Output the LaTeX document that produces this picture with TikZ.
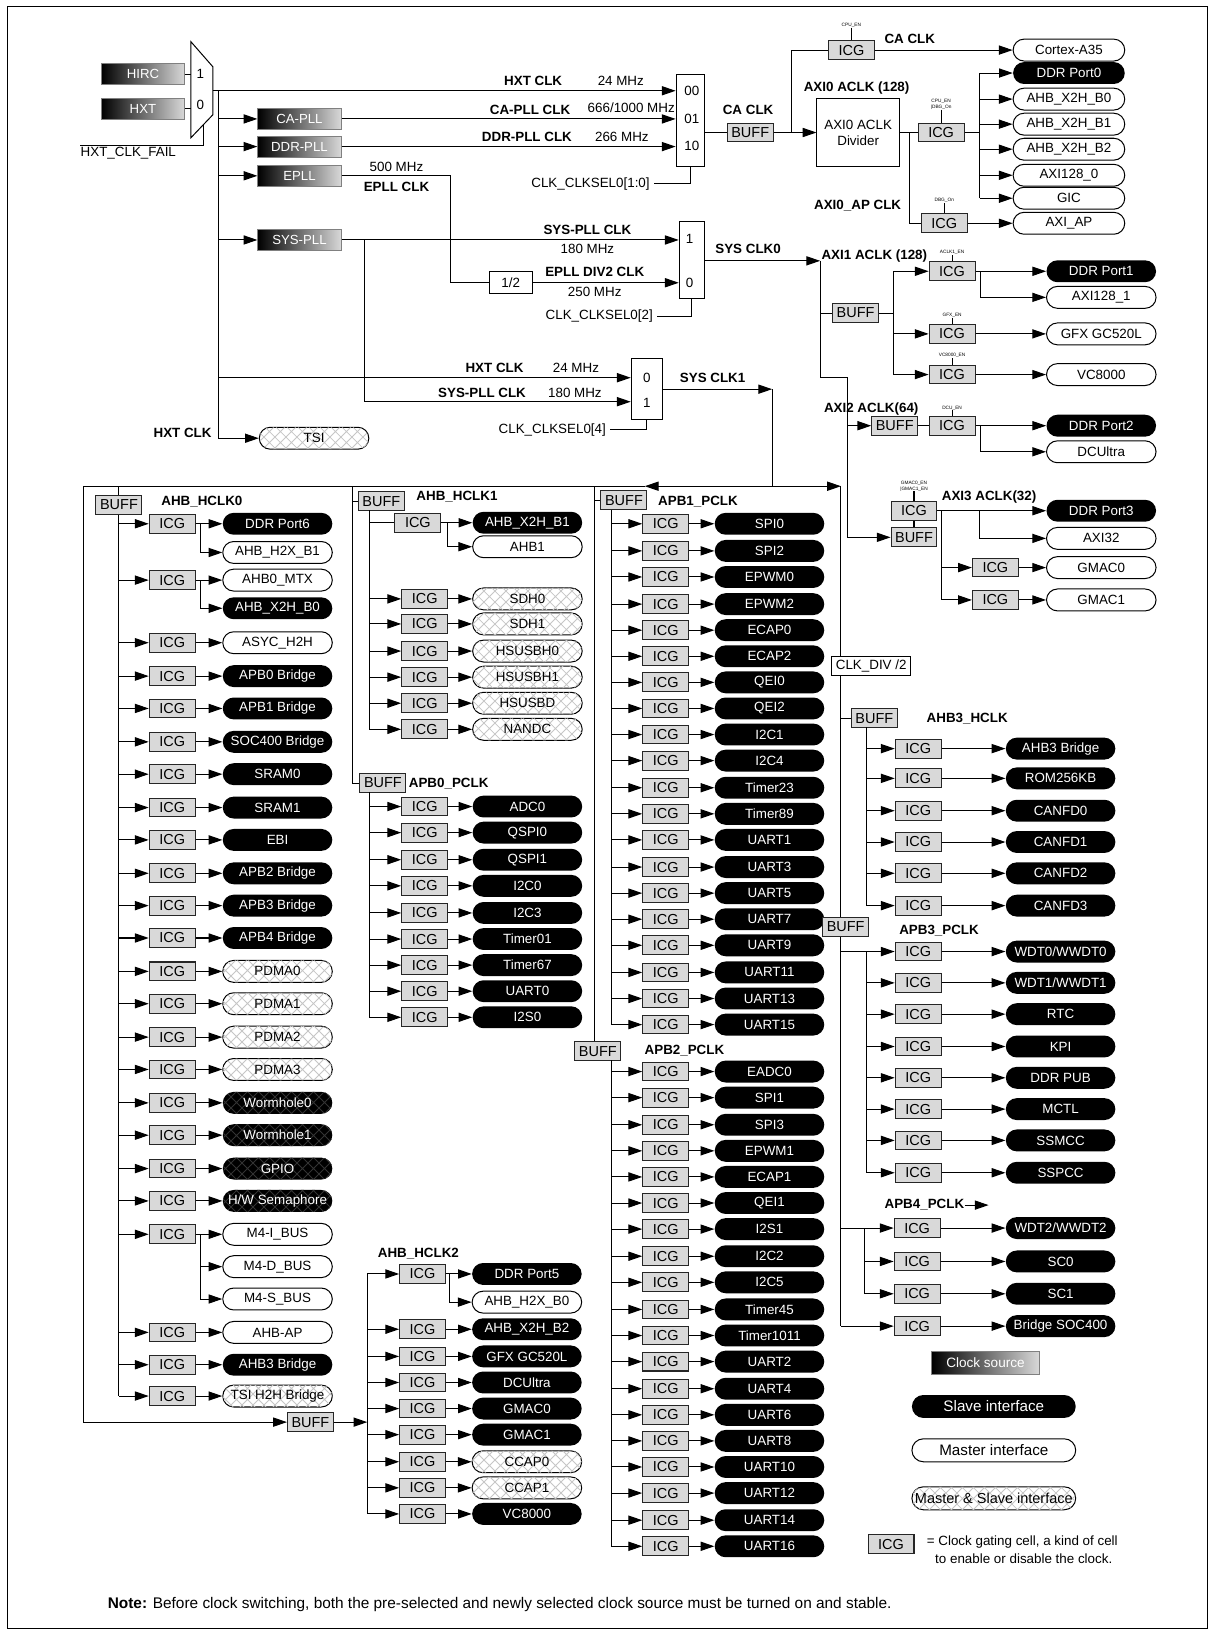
\documentclass[tikz,border=0pt]{standalone}
\usepackage{fontspec}
\setmainfont{Liberation Sans}
\usetikzlibrary{arrows.meta, shapes.misc, patterns.meta}

\tikzdeclarepattern{
  name=xhatch, type=uncolored,
  bottom left={(-0.5pt,-0.5pt)}, top right={(6.5pt,6.5pt)},
  tile size={(6pt,6pt)},
  code={\draw[line width=0.45pt] (0pt,0pt) -- (6pt,6pt) (0pt,6pt) -- (6pt,0pt);}
}

\tikzset{
  every node/.style={font=\fontsize{7.3}{8.8}\selectfont, inner sep=0pt},
  wire/.style={line width=0.55pt},
  arr/.style={line width=0.55pt, -{Triangle[length=7.5pt,width=5pt]}},
  src/.style={draw=gray, left color=black, right color=gray!30, text=white,
    minimum width=1.6cm, minimum height=0.4cm, font=\fontsize{7.2}{8.6}\selectfont},
  icg/.style={draw=gray!30!black, fill=gray!30, line width=0.55pt,
    minimum width=0.88cm, minimum height=0.36cm, font=\fontsize{7.9}{9}\selectfont},
  buff/.style={icg},
  slv/.style={rounded rectangle, fill=black, text=white, minimum width=2.1cm, minimum height=0.42cm},
  mst/.style={rounded rectangle, draw, line width=0.55pt, fill=white, minimum width=2.1cm, minimum height=0.42cm},
  msl/.style={mst, postaction={pattern=xhatch, pattern color=gray!45}},
  slvh/.style={slv, postaction={pattern=xhatch, pattern color=gray!40!black}},
  lbl/.style={font=\fontsize{7.3}{8.8}\selectfont\bfseries},
  en/.style={font=\fontsize{2.6}{3}\selectfont, align=center},
  box/.style={draw, fill=white, line width=0.55pt},
  wide/.style={minimum width=2.14cm},
  lgd/.style={minimum width=3.14cm, minimum height=0.44cm, font=\fontsize{8.3}{10}\selectfont},
}

\begin{document}
\begin{tikzpicture}[x=0.02cm, y=-0.02cm]
\useasboundingbox (0,0) rectangle (1164,1568);
\draw[wire] (7,6) rectangle (1157,1561);

% clock sources
\node[src] (hirc) at (137,71) {HIRC};
\node[src] (hxt) at (137,104) {HXT};
\draw[wire] (183,40) -- (204,64) -- (204,110) -- (183,132) -- cycle;
\node at (192,71) {1};
\node at (192,101) {0};
\draw[wire] (hirc) -- (183,71);
\draw[wire] (hxt) -- (183,104);
\node (fail) at (123,147) {HXT\_CLK\_FAIL};
\coordinate (failL) at (77,139);
\coordinate (failR) at (195,139);
\draw[wire] (failL) -- (failR) -- (195,119);

\coordinate (mo) at (204,87);
\coordinate (b0) at (209,87);
\node[box, minimum width=0.54cm, minimum height=1.78cm] (m1) at (661.5,115.5) {};
\node at (663,87) {00};
\node at (663,114) {01};
\node at (663,140) {10};
\node[src] (capll) at (287,114) {CA-PLL};
\node[src] (ddrpll) at (287,140.5) {DDR-PLL};
\node[src] (epll) at (287,168.5) {EPLL};
\node[src] (syspll) at (287,230) {SYS-PLL};
\node[msl] (tsi) at (301,420) {TSI};
\draw[arr] (mo) -- (mo -| m1.west);
\draw[wire] (b0) -- (b0 |- tsi);
\draw[arr] (b0 |- tsi) -- (tsi);
\draw[arr] (b0 |- capll) -- (capll);
\draw[arr] (b0 |- ddrpll) -- (ddrpll);
\draw[arr] (b0 |- epll) -- (epll);
\draw[arr] (b0 |- syspll) -- (syspll);
\draw[arr] (capll) -- (capll -| m1.west);
\draw[arr] (ddrpll) -- (ddrpll -| m1.west);
\node[lbl] at (511,78) {HXT CLK};
\node at (595,77) {24 MHz};
\node[lbl] at (508,105) {CA-PLL CLK};
\node at (605,103) {666/1000 MHz};
\node[lbl] at (505,131) {DDR-PLL CLK};
\node at (596,131) {266 MHz};
\node[anchor=east] (sel1) at (623,176) {CLK\_CLKSEL0[1:0]};
\draw[wire] (sel1.east) ++(4,0) -| (m1.south);

% CA clock and AXI0
\node[buff] (cabuf) at (719,127) {BUFF};
\node[lbl] at (717,105) {CA CLK};
\coordinate (ca) at (759,127);
\node[box, align=center, minimum width=1.58cm, minimum height=1.3cm] (div) at (822.5,127) {AXI0 ACLK\\Divider};
\node[icg] (caicg) at (816,48) {ICG};
\node[en] (caen) at (816,24) {CPU\_EN};
\node[lbl] at (872,37) {CA CLK};
\node[mst, wide] (a35) at (1024.5,48) {Cortex-A35};
\draw[wire] (m1.east |- cabuf) -- (cabuf) -- (ca);
\draw[arr] (ca) -- (div);
\draw[wire] (ca) |- (caicg);
\draw[arr] (caicg) -- (a35);
\draw[wire] (caen) -- (caicg);
\node[icg] (ax0icg) at (902,127) {ICG};
\node[en] (ax0en) at (902,100) {CPU\_EN\\|DBG\_On};
\node[lbl] at (821,84) {AXI0 ACLK (128)};
\coordinate (ax0b) at (872,127);
\node[icg] (apicg) at (905,214) {ICG};
\node[en] (apen) at (905,192) {DBG\_On};
\node[lbl] at (822,197) {AXI0\_AP CLK};
\node[mst, wide] (axiap) at (1024.5,214) {AXI\_AP};
\draw[wire] (div) -- (ax0icg);
\draw[wire] (ax0en) -- (ax0icg);
\draw[wire] (ax0b) |- (apicg);
\draw[wire] (apen) -- (apicg);
\draw[arr] (apicg) -- (axiap);
\coordinate (ax0f) at (939,127);
\draw[wire] (ax0icg) -- (ax0f);
\foreach \y/\t/\s [count=\i] in {70/DDR Port0/slv, 95/AHB\_X2H\_B0/mst, 119/AHB\_X2H\_B1/mst,
    143/AHB\_X2H\_B2/mst, 168/AXI128\_0/mst, 190/GIC/mst} {
  \node[\s, wide] (ax0p\i) at (1024.5,\y) {\t};
  \draw[arr] (ax0f |- ax0p\i) -- (ax0p\i);
}
\draw[wire] (ax0f |- ax0p1) -- (ax0f |- ax0p6);

% SYS CLK0
\node[box, minimum width=0.48cm, minimum height=1.47cm] (m2) at (663,249) {};
\node at (661,229) {1};
\node at (661,271) {0};
\draw[arr] (syspll) -- (syspll -| m2.west);
\coordinate (ep) at (432,168.5);
\node[box, minimum width=0.82cm, minimum height=0.43cm] (half) at (489.5,271) {1/2};
\draw[wire] (epll) -- (ep) |- (half);
\draw[arr] (half) -- (half -| m2.west);
\node at (380,160) {500 MHz};
\node[lbl] at (380,179) {EPLL CLK};
\node[lbl] at (563,220) {SYS-PLL CLK};
\node at (563,239) {180 MHz};
\node[lbl] at (570,261) {EPLL DIV2 CLK};
\node at (570,280) {250 MHz};
\node[anchor=east] (sel2) at (626,303) {CLK\_CLKSEL0[2]};
\draw[wire] (sel2.east) ++(4,0) -| (m2.south);
\coordinate (s0) at (786,250);
\draw[arr] (m2.east |- s0) -- (s0);
\node[lbl] at (717,239) {SYS CLK0};

% SYS CLK1
\node[box, minimum width=0.6cm, minimum height=1.16cm] (m3) at (620,373) {};
\node at (620,362) {0};
\node at (620,386) {1};
\coordinate (h3) at (209,362);
\coordinate (sp) at (349,230);
\coordinate (sp3) at (349,385);
\draw[arr] (h3) -- (h3 -| m3.west);
\draw[arr] (sp) -- (sp3) -- (sp3 -| m3.west);
\node[lbl] at (474,353) {HXT CLK};
\node at (552,353) {24 MHz};
\node[lbl] at (462,377) {SYS-PLL CLK};
\node at (551,377) {180 MHz};
\node[anchor=east] (sel3) at (581,412) {CLK\_CLKSEL0[4]};
\draw[wire] (sel3.east) ++(4,0) -| (m3.south);
\coordinate (s1) at (740,373);
\draw[arr] (m3.east |- s1) -- (s1);
\node[lbl] at (683,362) {SYS CLK1};
\node[lbl] at (175,415) {HXT CLK};

% AXI1
\node[lbl] at (838,245) {AXI1 ACLK (128)};
\coordinate (a1v) at (786,362);
\coordinate (a1w) at (812,362);
\coordinate (a1x) at (812,515);
\node[buff] (a1buf) at (820,300) {BUFF};
\draw[wire] (s0) -- (a1v) -- (a1w) -- (a1x);
\draw[wire] (s0 |- a1buf) -- (a1buf);
\coordinate (a1k) at (856,300);
\draw[wire] (a1buf) -- (a1k);
\foreach \y/\t/\e/\s [count=\i] in {260/DDR Port1/ACLK1\_EN/slv, 320/GFX GC520L/GFX\_EN/mst, 359/VC8000/VC8000\_EN/mst} {
  \node[icg] (a1i\i) at (912.5,\y) {ICG};
  \node[en] (a1e\i) at (912.5,\y-18) {\e};
  \node[\s] (a1p\i) at (1055.5,\y) {\t};
  \draw[wire] (a1e\i) -- (a1i\i);
  \draw[arr] (a1k |- a1i\i) -- (a1i\i);
  \draw[arr] (a1i\i) -- (a1p\i);
}
\draw[wire] (a1k |- a1i1) -- (a1k |- a1i3);
\node[mst] (a1q) at (1055.5,285) {AXI128\_1};
\coordinate (a1f) at (940,260);
\draw[arr] (a1f) |- (a1q);

% AXI2
\node[lbl] at (835,392) {AXI2 ACLK(64)};
\node[buff] (a2buf) at (857.5,408) {BUFF};
\node[icg] (a2icg) at (912.5,408) {ICG};
\node[en] (a2en) at (912.5,391) {DCU\_EN};
\node[slv] (a2p1) at (1055.5,408) {DDR Port2};
\node[mst] (a2p2) at (1055.5,433) {DCUltra};
\draw[arr] (a1x |- a2buf) -- (a2buf);
\draw[wire] (a2buf) -- (a2icg);
\draw[wire] (a2en) -- (a2icg);
\draw[arr] (a2icg) -- (a2p1);
\coordinate (a2f) at (940,408);
\draw[arr] (a2f) |- (a2p2);

% AXI3
\node[lbl] at (948,476) {AXI3 ACLK(32)};
\node[icg] (a3icg) at (876,489.5) {ICG};
\node[buff] (a3buf) at (876,515) {BUFF};
\node[en] (a3en) at (876,466) {GMAC0\_EN\\|GMAC1\_EN};
\draw[arr] (a1x) -- (a3buf);
\draw[wire] (a3buf) -- (a3icg);
\draw[wire] (a3en) -- (a3icg);
\node[slv] (a3p1) at (1055.5,489.5) {DDR Port3};
\node[mst] (a3p2) at (1055.5,516) {AXI32};
\draw[arr] (a3icg) -- (a3p1);
\coordinate (a3f) at (939,489.5);
\draw[arr] (a3f) |- (a3p2);
\coordinate (a3k) at (902,489.5);
\foreach \y/\t [count=\i] in {544/GMAC0, 575/GMAC1} {
  \node[icg] (a3i\i) at (954,\y) {ICG};
  \node[mst] (a3g\i) at (1055.5,\y) {\t};
  \draw[arr] (a3k |- a3i\i) -- (a3i\i);
  \draw[arr] (a3i\i) -- (a3g\i);
}
\draw[wire] (a3k) -- (a3k |- a3i2);

% clock tree frame
\coordinate (top) at (740,466);
\coordinate (tl) at (618,466);
\coordinate (tr) at (806,466);
\coordinate (fl) at (80,466);
\coordinate (fb) at (80,1363);
\coordinate (fr) at (806,1271);
\draw[wire] (s1) -- (top);
\draw[arr] (top) -- (tl);
\draw[arr] (top) -- (tr);
\draw[wire] (tl) -- (fl) -- (fb);
\draw[wire] (tr) -- (fr);

% AHB_HCLK0
\node[buff] (h0buf) at (114,484) {BUFF};
\node[lbl] at (193.5,481) {AHB\_HCLK0};
\draw[wire] (fl -| h0buf) -- (h0buf);
\coordinate (h0b) at (114,492);
\foreach \y/\t/\s [count=\i] in {502/DDR Port6/slv, 556/AHB0\_MTX/mst, 616/ASYC\_H2H/mst,
    648/APB0 Bridge/slv, 679/APB1 Bridge/slv, 711/SOC400 Bridge/slv, 742/SRAM0/slv,
    774/SRAM1/slv, 805/EBI/slv, 837/APB2 Bridge/slv, 868/APB3 Bridge/slv, 899/APB4 Bridge/slv,
    931/PDMA0/msl, 962/PDMA1/msl, 994/PDMA2/msl, 1025/PDMA3/msl, 1057/Wormhole0/slvh,
    1088/Wormhole1/slvh, 1120/GPIO/slvh, 1151/{H/W Semaphore}/slvh, 1183/M4-I\_BUS/mst,
    1277/AHB-AP/mst, 1308/AHB3 Bridge/slv, 1338/TSI H2H Bridge/msl} {
  \node[icg] (h0i\i) at (165,\y) {ICG};
  \node[\s] (h0p\i) at (266,\y) {\t};
  \draw[arr] (h0b |- h0i\i) -- (h0i\i);
  \draw[arr] (h0i\i) -- (h0p\i);
}
\draw[wire] (h0buf) -- (h0b |- h0i24);
\node[mst] (h0q1) at (266,529.5) {AHB\_H2X\_B1};
\node[slv] (h0q2) at (266,583) {AHB\_X2H\_B0};
\node[mst] (h0q3) at (266,1214) {M4-D\_BUS};
\node[mst] (h0q4) at (266,1245) {M4-S\_BUS};
\coordinate (h0k1) at (192.5,502);
\coordinate (h0k2) at (192.5,556);
\coordinate (h0k3) at (192.5,1183);
\draw[arr] (h0k1) |- (h0q1);
\draw[arr] (h0k2) |- (h0q2);
\draw[arr] (h0k3) |- (h0q3);
\draw[arr] (h0k3) |- (h0q4);
\node[buff] (bbuf) at (297.5,1363) {BUFF};
\coordinate (h2b) at (352,1363);
\draw[arr] (fb) -- (bbuf);
\draw[arr] (bbuf) -- (h2b);

% AHB_HCLK1 and APB0
\coordinate (f1) at (338,466);
\node[buff] (h1buf) at (365.5,480.5) {BUFF};
\node[buff] (p0buf) at (367,750.5) {BUFF};
\draw[wire] (f1) -- (f1 |- p0buf) -- (p0buf);
\draw[wire] (f1 |- h1buf) -- (h1buf);
\node[lbl] at (438,476) {AHB\_HCLK1};
\node[lbl] at (430,751) {APB0\_PCLK};
\coordinate (h1b) at (354,489);
\node[icg] (h1i0) at (400.5,501) {ICG};
\node[slv] (h1p0) at (505.5,501) {AHB\_X2H\_B1};
\node[mst] (h1q) at (505.5,524) {AHB1};
\draw[wire] (h1b |- h1i0) -- (h1i0);
\draw[arr] (h1i0) -- (h1p0);
\coordinate (h1k) at (429,501);
\draw[arr] (h1k) |- (h1q);
\foreach \y/\t [count=\i] in {574/SDH0, 598/SDH1, 624/HSUSBH0, 649/HSUSBH1, 674/HSUSBD, 699/NANDC} {
  \node[icg] (h1i\i) at (407,\y) {ICG};
  \node[msl] (h1p\i) at (505.5,\y) {\t};
  \draw[arr] (h1b |- h1i\i) -- (h1i\i);
  \draw[arr] (h1i\i) -- (h1p\i);
}
\draw[wire] (h1b) -- (h1b |- h1i6);
\coordinate (p0b) at (354,759);
\foreach \y/\t [count=\i] in {773/ADC0, 798/QSPI0, 824/QSPI1, 849/I2C0, 875/I2C3, 900/Timer01,
    925/Timer67, 950/UART0, 975/I2S0} {
  \node[icg] (p0i\i) at (407,\y) {ICG};
  \node[slv] (p0p\i) at (505.5,\y) {\t};
  \draw[arr] (p0b |- p0i\i) -- (p0i\i);
  \draw[arr] (p0i\i) -- (p0p\i);
}
\draw[wire] (p0b) -- (p0b |- p0i9);

% AHB_HCLK2
\node[lbl] at (401,1202) {AHB\_HCLK2};
\foreach \y/\t/\s [count=\i] in {1221/DDR Port5/slv, 1274/AHB\_X2H\_B2/slv, 1300/GFX GC520L/slv,
    1325/DCUltra/slv, 1350/GMAC0/slv, 1375/GMAC1/slv, 1401/CCAP0/msl, 1426/CCAP1/msl, 1451/VC8000/slv} {
  \node[icg] (h2i\i) at (405,\y) {ICG};
  \node[\s] (h2p\i) at (505,\y) {\t};
  \draw[arr] (h2b |- h2i\i) -- (h2i\i);
  \draw[arr] (h2i\i) -- (h2p\i);
}
\draw[wire] (h2b |- h2i1) -- (h2b |- h2i9);
\node[mst] (h2q) at (505,1248) {AHB\_H2X\_B0};
\coordinate (h2k) at (431,1221);
\draw[arr] (h2k) |- (h2q);

% APB1 and APB2
\coordinate (f2) at (570,466);
\node[buff] (p1buf) at (598,479.5) {BUFF};
\draw[wire] (f2) -- (570,999);
\node[buff] (p2buf) at (573,1007.5) {BUFF};
\draw[wire] (f2 |- p1buf) -- (p1buf);
\node[lbl] at (669,481) {APB1\_PCLK};
\node[lbl] at (656,1007) {APB2\_PCLK};
\coordinate (p1b) at (586,489);
\foreach \y/\t [count=\i] in {502/SPI0, 528/SPI2, 553/EPWM0, 579/EPWM2, 604/ECAP0, 629/ECAP2,
    654/QEI0, 679/QEI2, 704/I2C1, 729/I2C4, 755/Timer23, 780/Timer89, 805/UART1, 831/UART3,
    856/UART5, 881/UART7, 906/UART9, 932/UART11, 957/UART13, 982/UART15} {
  \node[icg] (p1i\i) at (638,\y) {ICG};
  \node[slv] (p1p\i) at (737.5,\y) {\t};
  \draw[arr] (p1b |- p1i\i) -- (p1i\i);
  \draw[arr] (p1i\i) -- (p1p\i);
}
\draw[wire] (p1b) -- (p1b |- p1i20);
\coordinate (p2b) at (586,1016);
\foreach \y/\t [count=\i] in {1027/EADC0, 1052/SPI1, 1078/SPI3, 1103/EPWM1, 1128/ECAP1, 1153/QEI1,
    1178/I2S1, 1204/I2C2, 1229/I2C5, 1255/Timer45, 1280/Timer1011, 1305/UART2, 1331/UART4,
    1356/UART6, 1381/UART8, 1406/UART10, 1431/UART12, 1457/UART14, 1482/UART16} {
  \node[icg] (p2i\i) at (638,\y) {ICG};
  \node[slv] (p2p\i) at (737.5,\y) {\t};
  \draw[arr] (p2b |- p2i\i) -- (p2i\i);
  \draw[arr] (p2i\i) -- (p2p\i);
}
\draw[wire] (p2b) -- (p2b |- p2i19);

% AHB3, APB3, APB4
\node[box, minimum width=1.52cm, minimum height=0.37cm] (cdiv) at (835,638) {CLK\_DIV /2};
\node[buff] (h3buf) at (838,688.5) {BUFF};
\draw[wire] (tr |- h3buf) -- (h3buf);
\node[lbl] at (927,689) {AHB3\_HCLK};
\coordinate (h3b) at (830,697);
\foreach \y/\t [count=\i] in {717.5/AHB3 Bridge, 746/ROM256KB, 777/CANFD0, 807/CANFD1, 837/CANFD2, 868/CANFD3} {
  \node[icg] (h3i\i) at (880,\y) {ICG};
  \node[slv] (h3p\i) at (1016.5,\y) {\t};
  \draw[arr] (h3b |- h3i\i) -- (h3i\i);
  \draw[arr] (h3i\i) -- (h3p\i);
}
\draw[wire] (h3b) -- (h3b |- h3i6);
\node[buff] (p3buf) at (810.5,888.5) {BUFF};
\node[lbl] at (900,892) {APB3\_PCLK};
\coordinate (p3b) at (830,912);
\foreach \y/\t [count=\i] in {912/{WDT0/WWDT0}, 942/{WDT1/WWDT1}, 972/RTC, 1003/KPI, 1033/DDR PUB,
    1063/MCTL, 1093/SSMCC, 1124/SSPCC} {
  \node[icg] (p3i\i) at (880,\y) {ICG};
  \node[slv] (p3p\i) at (1016.5,\y) {\t};
  \draw[arr] (p3b |- p3i\i) -- (p3i\i);
  \draw[arr] (p3i\i) -- (p3p\i);
}
\draw[wire] (tr |- p3b) -- (p3b) -- (p3b |- p3i8);
\node[lbl] (p4l) at (886,1155) {APB4\_PCLK};
\draw[arr] (p4l.east) -- +(23,0);
\coordinate (p4b) at (829,1177);
\foreach \y/\t/\bx [count=\i] in {1177/{WDT2/WWDT2}/829, 1209/SC0/829, 1240/SC1/829, 1271/Bridge SOC400/806} {
  \node[icg] (p4i\i) at (879,\y) {ICG};
  \node[slv] (p4p\i) at (1016.5,\y) {\t};
  \draw[arr] (\bx,\y) -- (p4i\i);
  \draw[arr] (p4i\i) -- (p4p\i);
}
\draw[wire] (tr |- p4b) -- (p4b) -- (p4b |- p4i3);

% legend
\node[src, minimum width=2.06cm, minimum height=0.44cm, font=\fontsize{7.4}{9}\selectfont] (lsrc) at (944.5,1306) {Clock source};
\node[slv, lgd] (lslv) at (952.5,1348) {Slave interface};
\node[mst, lgd] (lmst) at (952.5,1390) {Master interface};
\node[msl, lgd, font=\fontsize{7.9}{10}\selectfont] (lmsl) at (952.5,1436) {Master \& Slave interface};
\node[icg] (licg) at (854,1480) {ICG};
\node[anchor=west] (ltx1) at (888,1478) {= Clock gating cell, a kind of cell};
\node[anchor=west] (ltx2) at (896,1494) {to enable or disable the clock.};

% note
\node[anchor=west, font=\fontsize{8.4}{10}\selectfont] (note) at (103,1538)
  {\textbf{Note:} Before clock switching, both the pre-selected and newly selected clock source must be turned on and stable.};
\end{tikzpicture}
\end{document}
